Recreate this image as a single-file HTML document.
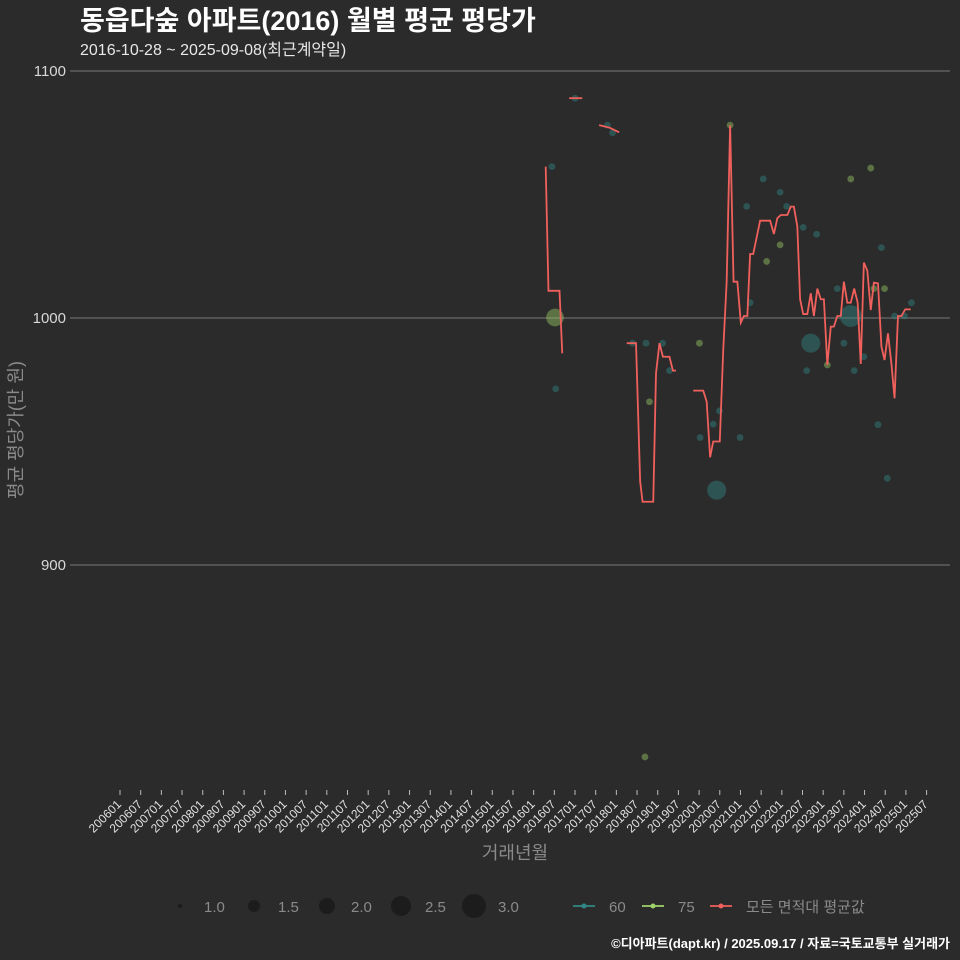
<!DOCTYPE html>
<html><head><meta charset="utf-8">
<style>
html,body{margin:0;background:#2b2b2b;overflow:hidden;width:960px;height:960px;}
svg{display:block;}
svg text{font-family:"Liberation Sans","Noto Sans CJK KR",sans-serif;}
</style></head>
<body>
<svg id="c" width="960" height="960" xmlns="http://www.w3.org/2000/svg">
<rect width="960" height="960" fill="#2b2b2b"/>
<text x="80" y="30" font-size="27" font-weight="bold" fill="#fff">동읍다숲 아파트(2016) 월별 평균 평당가</text>
<text x="80" y="55" font-size="16" fill="#e8e8e8">2016-10-28 ~ 2025-09-08(최근계약일)</text>
<g id="grid"></g><g id="pts"></g><g id="lines"></g><g id="xax"></g>
<text transform="translate(22,430) rotate(-90)" text-anchor="middle" font-size="18" fill="#8a8a8a">평균 평당가(만 원)</text>
<text x="515" y="859" text-anchor="middle" font-size="18" fill="#8a8a8a">거래년월</text>
<g id="legend"></g>
<text x="950" y="948" text-anchor="end" font-size="13" font-weight="bold" fill="#fff">©디아파트(dapt.kr) / 2025.09.17 / 자료=국토교통부 실거래가</text>
</svg>
<script>
// month index from 2006-01
const yTicks=[900,1000,1100];
const lineSegments=[
 [[123.5,1061.3],[124.3,1011],[127.5,1011],[128.3,985.7]],
 [[130.3,1089],[134.1,1089]],
 [[139,1078.1],[142.1,1077],[144.8,1075.2]],
 [[147,989.8],[149.7,989.8],[150.9,933.8],[151.6,925.6],[154.7,925.6],[155.5,977.6],[156.5,989.8],[157.5,984.3],[159.4,984.3],[160.4,978.7],[161.3,978.7]],
 [[166.3,970.6],[169.2,970.6],[170.2,966.1],[171.2,943.6],[172.1,950],[174,950],[175,987],[176,1014.7],[177,1078.1],[178,1014.7],[179.1,1014.7],[180.1,998.1],[181,1000.8],[182,1000.8],[182.8,1025.9],[183.7,1025.9],[185.7,1039.4],[188.6,1039.4],[189.7,1034],[190.7,1040.4],[191.7,1041.7],[193.6,1041.7],[194.6,1045.1],[195.5,1045.1],[196.5,1037],[197.3,1007.6],[198.2,1001.6],[199.4,1001.6],[200.4,1010],[201.3,1000.8],[202.3,1011.9],[203.3,1007.6],[204.2,1007.6],[205.2,981],[206.2,996.5],[207.1,996.5],[208.1,1000.8],[209.1,1000.8],[210,1014.7],[211,1006.2],[212,1006.2],[213,1011.9],[214,1006.2],[214.9,981.4],[215.8,1022.4],[216.8,1019.2],[217.8,1003.2],[218.7,1014.3],[219.9,1014],[220.9,988.4],[221.8,983],[222.8,993.8],[223.8,981.4],[224.7,967.5],[225.7,1000.8],[226.7,1000.8],[227.8,1003.5],[229.4,1003.5]]
];
const ptMonths=[125.3,126.2,126.4,132,141.4,142.9,148.7,152.6,157.4,153.6,159.4,168.1,168.3,172.1,173.9,173.1,177,179.9,152.3,181.8,186.6,191.5,193.4,187.6,191.5,182.8,198.2,202.1,200.4,199.2,205.2,208.1,210,212,212,213,215.8,217.8,218.7,219.9,220.9,221.8,222.6,224.7,227.6,229.6];
const ptValues=[1061.3,1000.2,971.3,1089,1078.1,1075,989.8,989.8,989.8,966.1,978.7,989.8,951.6,957,962.4,930.3,1078.1,951.6,822.3,1045.2,1056.3,1050.9,1045.2,1022.9,1029.6,1006.2,1036.7,1033.9,989.8,978.7,981,1011.9,989.8,1056.3,1000.8,978.7,984.3,1060.7,1011.9,956.8,1028.5,1011.9,935.1,1000.8,1000.8,1006.2];
const ptSizes=[1,2.6,1,1,1,1,1,1,1,1,1,1,1,1,1,2.8,1,1,1,1,1,1,1,1,1,1,1,1,2.8,1,1,1,1,1,3.2,1,1,1,1,1,1,1,1,1,1,1];
const ptTypes=[60,75,60,60,60,60,60,60,60,75,60,75,60,60,60,60,75,60,75,60,60,60,60,75,75,60,60,60,60,60,75,60,60,75,60,60,60,75,75,60,60,75,60,60,60,60];
const xTickLabels=[];for(let y=2006;y<=2025;y++){xTickLabels.push(y+'01');xTickLabels.push(y+'07');}

const NS='http://www.w3.org/2000/svg';
const X=m=>120+m*3.447, Y=v=>318-(v-1000)*2.47;
function mk(t,a,p){const e=document.createElementNS(NS,t);for(const k in a)e.setAttribute(k,a[k]);p.appendChild(e);return e;}
const grid=document.getElementById('grid');
yTicks.forEach(v=>{
 const l=mk('line',{x1:70,x2:950,y1:Y(v),y2:Y(v),stroke:'#6a6a6a','stroke-width':1.2},grid);
 
 
 const t=mk('text',{x:66,y:Y(v)+5,'text-anchor':'end','font-size':15,fill:'#d8d8d8'},grid);
 t.textContent=v;
 
 
});
const xax=document.getElementById('xax');
xTickLabels.forEach((s,i)=>{
 const x=X(i*6);
 const l=mk('line',{x1:x,x2:x,y1:790,y2:795,stroke:'#bbb'},xax);
 
 
 const t=mk('text',{transform:`translate(${x+2},${805}) rotate(-45)`,'text-anchor':'end','font-size':12,fill:'#e0e0e0'},xax);
 t.textContent=s;
 
 
});
const pts=document.getElementById('pts');
ptMonths.forEach((m,i)=>{
 const c=mk('circle',{cx:X(m),cy:Y(ptValues[i]),r:3.4*ptSizes[i],fill:ptTypes[i]==60?'#2f8a87':'#9fd46a','fill-opacity':0.42},pts);
 
 
});
const lines=document.getElementById('lines');
lineSegments.forEach(seg=>{
 const p=mk('polyline',{points:seg.map(d=>X(d[0])+','+Y(d[1])).join(' '),fill:'none',stroke:'#f0605c','stroke-width':1.8},lines);
 
 
});
const lg=document.getElementById('legend');
const sizes=[1,1.5,2,2.5,3],sx=[180,254,327,401,474];
sizes.forEach((s,i)=>{
 const c=mk('circle',{cx:sx[i],cy:906,r:[2,6,8,10,12][i],fill:'#1c1c1c'},lg);
 
 
 const t=mk('text',{x:sx[i]+24,y:912,'font-size':15,fill:'#8a8a8a'},lg);
 t.textContent=s.toFixed(1);
 
 
});
[['#2f8a87','60',584],['#9fd46a','75',653],['#f0605c','모든 면적대 평균값',721]].forEach(d=>{
 const g=mk('g',{},lg);
 
 
 mk('line',{x1:d[2]-11,x2:d[2]+11,y1:906,y2:906,stroke:d[0],'stroke-width':1.8},g);
 mk('circle',{cx:d[2],cy:906,r:2.5,fill:d[0]},g);
 const t=mk('text',{x:d[2]+25,y:912,'font-size':15,fill:'#8a8a8a'},g);
 t.textContent=d[1];
});
</script>
</body></html>
